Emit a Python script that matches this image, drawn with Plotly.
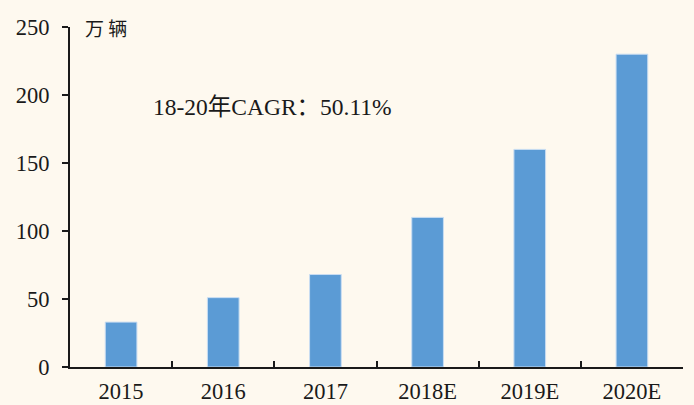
import plotly.graph_objects as go

# 数据
years = ['2015', '2016', '2017', '2018E', '2019E', '2020E']
sales = [33, 51, 68, 110, 160, 230]  # 万辆
y_ticks = [0, 50, 100, 150, 200, 250]

bar_color = '#5B9BD5'
bg_color = '#FEF9EF'
serif = 'Liberation Serif, Times New Roman, Noto Sans CJK SC, serif'

fig = go.Figure()

fig.add_trace(go.Bar(
    x=years,
    y=sales,
    marker=dict(color=bar_color, line=dict(color='#C9DDF2', width=1)),
    width=0.31,
    hoverinfo='x+y'
))

# CAGR 标注
fig.add_annotation(
    x=0.331, xref='paper',
    y=191, yref='y',
    text='18-20年CAGR：50.11%',
    showarrow=False,
    xanchor='center', yanchor='middle',
    font=dict(family=serif, size=23.5, color='#1a1a1a')
)

# 单位
fig.add_annotation(
    x=(83 - 70) / 613, xref='paper',
    y=1.0, yref='paper',
    text='万 辆',
    showarrow=False,
    xanchor='left', yanchor='middle',
    font=dict(family='Noto Sans CJK SC, sans-serif', size=19, color='#1a1a1a')
)

fig.update_xaxes(
    type='category',
    automargin=False,
    showline=True, linecolor='#1a1a1a', linewidth=2,
    ticks='inside', tickson='boundaries', ticklen=6, tickwidth=2, tickcolor='#1a1a1a',
    tickfont=dict(family=serif, size=22.5, color='#1a1a1a'),
    ticklabelstandoff=3,
    showgrid=False, zeroline=False
)

fig.update_yaxes(
    range=[0, 250],
    tickvals=y_ticks,
    automargin=False,
    showline=True, linecolor='#1a1a1a', linewidth=2,
    ticks='outside', ticklen=6, tickwidth=2, tickcolor='#1a1a1a',
    tickfont=dict(family=serif, size=22.5, color='#1a1a1a'),
    ticklabelstandoff=8,
    showgrid=False, zeroline=False
)

fig.update_layout(
    width=694, height=405,
    margin=dict(l=70, r=11, t=27, b=38),
    paper_bgcolor=bg_color,
    plot_bgcolor=bg_color,
    showlegend=False,
    bargap=0.69
)

# 去掉页面默认边距
fig.write_html(
    "out.html",
    config={'displayModeBar': False},
    post_script="document.body.style.margin='0';document.body.style.background='%s';" % bg_color
)
